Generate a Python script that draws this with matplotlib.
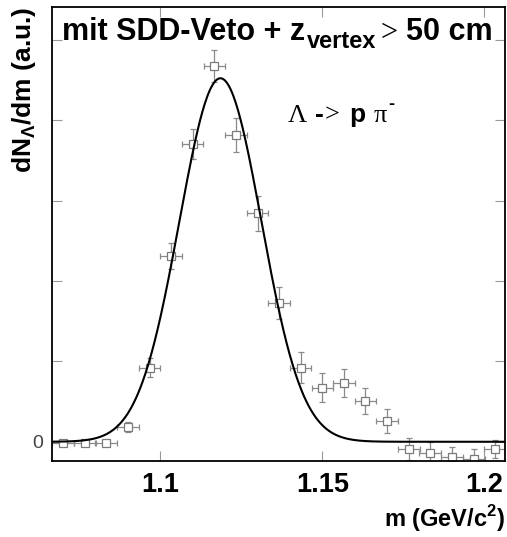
import numpy as np
import matplotlib
matplotlib.use('Agg')
import matplotlib.pyplot as plt

plt.rcParams['font.family'] = ['Liberation Sans', 'DejaVu Sans']
plt.rcParams['mathtext.fontset'] = 'custom'
plt.rcParams['mathtext.rm'] = 'Liberation Sans:bold'
plt.rcParams['mathtext.bf'] = 'Liberation Sans:bold'
plt.rcParams['mathtext.sf'] = 'Liberation Sans:bold'

# Invariant mass bin centres (GeV/c^2) and Lambda yield (a.u.)
mass = [1.0700, 1.0767, 1.0833, 1.0900, 1.0967, 1.1033, 1.1100,
        1.1167, 1.1233, 1.1300, 1.1367, 1.1433, 1.1500, 1.1567,
        1.1633, 1.1700, 1.1767, 1.1833, 1.1900, 1.1967, 1.2033]
yield_ = [-0.01, -0.01, -0.01, 0.18, 0.92, 2.31, 3.70,
          4.67, 3.81, 2.84, 1.73, 0.92, 0.67, 0.73,
          0.51, 0.26, -0.09, -0.14, -0.19, -0.22, -0.09]
yield_err = [0.02, 0.02, 0.02, 0.06, 0.12, 0.16, 0.19,
             0.20, 0.21, 0.22, 0.20, 0.19, 0.18, 0.17,
             0.16, 0.15, 0.14, 0.14, 0.125, 0.125, 0.117]
bin_half = 0.00333

# Gaussian fit parameters
fit_amp = 4.52
fit_mean = 1.11855
fit_sigma = 0.01265

SANS = dict(family='Liberation Sans', weight='bold')
SERIF = dict(family='Liberation Serif', weight='normal')


def text_row(ax, pieces, x, y):
    """Write text pieces one after another; each piece is
    (string, font dict, size, gap in points, baseline shift in points)."""
    s, font, size, gap, dy = pieces[0]
    prev = ax.text(x, y, s, transform=ax.transAxes, fontsize=size,
                   ha='left', va='baseline', **font)
    for s, font, size, gap, dy in pieces[1:]:
        prev = ax.annotate(s, xy=(1, y), xycoords=(prev, 'axes fraction'),
                           xytext=(gap, dy), textcoords='offset points',
                           fontsize=size, ha='left', va='baseline', **font)
    return prev


fig = plt.figure(figsize=(5.07, 5.37), dpi=100)
ax = fig.add_axes([0.102, 0.142, 0.895, 0.8445])

ax.errorbar(mass, yield_, yerr=yield_err, xerr=bin_half, fmt='s',
            color='#8a8a8a', mfc='white', mec='#7a7a7a', ms=5.2, mew=0.9,
            elinewidth=0.9, capsize=2.2, capthick=0.9, zorder=2)

m = np.linspace(1.0665, 1.2065, 600)
ax.plot(m, fit_amp * np.exp(-0.5 * ((m - fit_mean) / fit_sigma) ** 2),
        color='black', lw=1.5, zorder=3)

ax.set_xlim(1.0665, 1.2065)
ax.set_ylim(-0.236, 5.403)

ax.set_xticks([1.1, 1.15, 1.2])
ax.set_xticklabels(['1.1', '1.15', '1.2'], fontsize=19.5, fontweight='bold')
ax.set_yticks([0, 1, 2, 3, 4, 5])
ax.set_yticklabels(['0', '', '', '', '', ''], fontsize=14, color='#444444')
ax.tick_params(axis='x', direction='in', length=7, width=0.8, color='#999999',
               top=True, pad=8)
ax.tick_params(axis='y', direction='in', length=7, width=0.8, color='#999999',
               right=True, pad=6)
for s in ax.spines.values():
    s.set_linewidth(1.3)

# title inside the frame
text_row(ax, [('mit SDD-Veto + z', SANS, 22, 0, 0),
              ('vertex', SANS, 17, 1.0, -5.5),
              ('>', SERIF, 22, 3.5, 0),
              ('50 cm', SANS, 22, 5.5, 0)],
         0.0227, 0.9268)

# decay channel
text_row(ax, [('\u039b', SERIF, 19, 0, 0),
              ('-', SANS, 19, 6.0, 0),
              ('>', SERIF, 19, 0, 0),
              ('p', SANS, 19, 7.0, 0),
              ('\u03c0', SERIF, 19, 6.0, 0),
              ('-', SANS, 13, 1.0, 9)],
         0.5207, 0.7477)

fig.text(0.047, 0.988, r'dN$_{\mathbf{\Lambda}}$/dm (a.u.)', rotation=90,
         fontsize=19, fontweight='bold', ha='center', va='top')
fig.text(0.996, 0.006, r'm (GeV/c$^{\mathbf{2}}$)', fontsize=17,
         fontweight='bold', ha='right', va='bottom')

fig.savefig('out.png', dpi=100)
